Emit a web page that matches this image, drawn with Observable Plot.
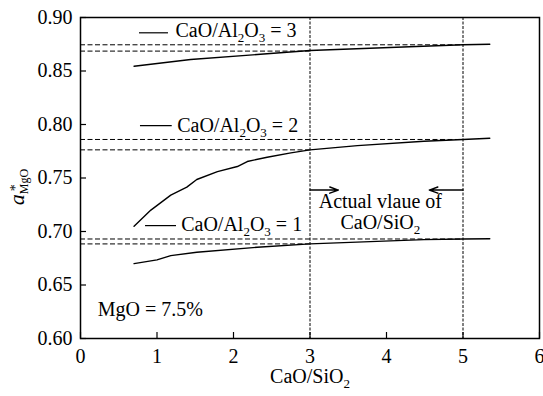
<!DOCTYPE html>
<html><head><meta charset="utf-8">
<script src="https://cdn.jsdelivr.net/npm/d3@7"></script>
<script src="https://cdn.jsdelivr.net/npm/@observablehq/plot@0.6"></script>
<style>
html,body{margin:0;padding:0;background:#fff}
#chart svg{display:block}
</style>
</head><body><div id="chart"></div>
<script>
// ---- data ----
const xTicks = [0, 1, 2, 3, 4, 5, 6];
const yTicks = [0.60, 0.65, 0.70, 0.75, 0.80, 0.85, 0.90];
const seriesNames = ["CaO/Al_{2}O_{3} = 1", "CaO/Al_{2}O_{3} = 2", "CaO/Al_{2}O_{3} = 3"];

const c1x = [0.70, 1.00, 1.18, 1.52, 2.31, 3.00, 4.49, 5.00, 5.35];
const c1y = [0.670, 0.6735, 0.6775, 0.6806, 0.6853, 0.6884, 0.6924, 0.6930, 0.6932];
const c2x = [0.70, 0.92, 1.18, 1.39, 1.52, 1.79, 2.05, 2.18, 2.44, 2.75, 3.00, 3.62, 4.49, 5.00, 5.35];
const c2y = [0.705, 0.720, 0.734, 0.7415, 0.7486, 0.756, 0.7607, 0.7654, 0.7694, 0.7735, 0.7763, 0.7803, 0.7843, 0.786, 0.7872];
const c3x = [0.70, 1.44, 2.31, 3.00, 5.00, 5.35];
const c3y = [0.8545, 0.8607, 0.8654, 0.8691, 0.8745, 0.8750];

const actualRange = [3, 5];            // actual CaO/SiO2 range
const valueAtLow  = [0.6884, 0.7763, 0.8686];  // a* at CaO/SiO2 = 3
const valueAtHigh = [0.6930, 0.7860, 0.8745];  // a* at CaO/SiO2 = 5

// legend annotation (data coords)
const legendLineX1 = [0.85, 0.784, 0.771];
const legendLineX2 = [1.255, 1.199, 1.150];
const legendLineY  = [0.7055, 0.799, 0.8857];
const legendTextX  = [1.316, 1.264, 1.242];
const legendTextY  = [0.7067, 0.799, 0.8874];

const noteLines = ["Actual vlaue of", "CaO/SiO_{2}"];
const noteX = 3.92;
const noteY = [0.728, 0.7086];
const arrowY = 0.7387;
const arrowTipX = [3.37, 4.56];

const mgoText = "MgO = 7.5%";
const mgoPos = [0.226, 0.6267];

// ---- build rows ----
const curves = [c1x, c2x, c3x].flatMap((xs, k) =>
  xs.map((x, i) => ({x, y: [c1y, c2y, c3y][k][i], s: seriesNames[k]})));
const legendRows = seriesNames.map((s, k) => ({
  s, x1: legendLineX1[k], x2: legendLineX2[k], y: legendLineY[k], tx: legendTextX[k], ty: legendTextY[k]}));
const refLow = valueAtLow.map(v => ({v}));
const refHigh = valueAtHigh.map(v => ({v}));
const arrows = [
  {x1: actualRange[0], x2: arrowTipX[0]},
  {x1: actualRange[1], x2: arrowTipX[1]}
];

const FS = 20;
const FAMILY = "Liberation Serif";
const plot = Plot.plot({
  width: 543, height: 396,
  marginLeft: 80, marginRight: 4, marginTop: 17, marginBottom: 58,
  style: {fontFamily: FAMILY, fontSize: FS + "px", color: "#000", background: "#fff"},
  x: {domain: [0, 6]},
  y: {domain: [0.6, 0.9]},
  marks: [
    Plot.ruleX(actualRange, {stroke: "#000", strokeWidth: 1, strokeDasharray: "3,1.5"}),
    Plot.ruleY(refLow, {y: "v", x1: actualRange[0] * 0, x2: actualRange[0], stroke: "#000", strokeWidth: 1, strokeDasharray: "5,2.5"}),
    Plot.ruleY(refHigh, {y: "v", x1: actualRange[0] * 0, x2: actualRange[1], stroke: "#000", strokeWidth: 1, strokeDasharray: "5,2.5"}),
    Plot.line(curves, {x: "x", y: "y", z: "s", stroke: "#000", strokeWidth: 1.4}),
    Plot.ruleY(legendRows, {y: "y", x1: "x1", x2: "x2", stroke: "#000", strokeWidth: 1.2}),
    Plot.text(legendRows, {x: "tx", y: "ty", text: "s", textAnchor: "start", lineAnchor: "middle", fill: "#000", fontSize: FS, fontFamily: FAMILY}),
    Plot.text(noteLines, {x: () => noteX, y: (d, i) => noteY[i], text: d => d, textAnchor: "middle", lineAnchor: "middle", fill: "#000", fontSize: FS, fontFamily: FAMILY}),
    Plot.arrow(arrows, {x1: "x1", x2: "x2", y1: () => arrowY, y2: () => arrowY, stroke: "#000", strokeWidth: 1.5, headLength: 9, headAngle: 40}),
    Plot.text([mgoText], {x: () => mgoPos[0], y: () => mgoPos[1], text: d => d, textAnchor: "start", lineAnchor: "middle", fill: "#000", fontSize: FS, fontFamily: FAMILY}),
    Plot.frame({stroke: "#000", strokeWidth: 1.5}),
    Plot.axisX({ticks: xTicks, tickSize: -6, tickPadding: 16, tickFormat: d => String(d), label: null, strokeWidth: 1.2, fontSize: FS, fontFamily: FAMILY}),
    Plot.axisY({ticks: yTicks, tickSize: -6, tickPadding: 14, tickFormat: d3.format(".2f"), label: null, strokeWidth: 1.2, fontSize: FS, fontFamily: FAMILY}),
    Plot.text(["CaO/SiO_{2}"], {frameAnchor: "bottom", dy: 38.5, text: d => d, textAnchor: "middle", lineAnchor: "middle", fill: "#000", fontSize: FS, fontFamily: FAMILY}),
    Plot.text(["YLABEL"], {frameAnchor: "left", dx: -57, dy: 9, rotate: -90, text: d => d, textAnchor: "middle", lineAnchor: "bottom", fill: "#000", fontSize: FS, fontFamily: FAMILY})
  ]
});

const NS = "http://www.w3.org/2000/svg";
function tspan(txt, attrs) {
  const t = document.createElementNS(NS, "tspan");
  t.textContent = txt;
  for (const k in attrs) t.setAttribute(k, attrs[k]);
  return t;
}
function rich(el) {
  const s = el.textContent;
  if (!/_\{/.test(s)) return;
  const parts = s.split(/(_\{[^}]*\})/).filter(p => p);
  while (el.firstChild) el.removeChild(el.firstChild);
  let shifted = false;
  const sh = FS * 0.25;
  for (const p of parts) {
    if (p.startsWith("_{")) {
      el.appendChild(tspan(p.slice(2, -1), {"font-size": FS * 0.65, dy: shifted ? 0 : sh}));
      shifted = true;
    } else {
      const a = {};
      if (shifted) { a.dy = -sh; shifted = false; }
      el.appendChild(tspan(p, a));
    }
  }
}
plot.querySelectorAll("text").forEach(el => {
  el.setAttribute("font-family", FAMILY);
  if (el.textContent === "YLABEL") {
    el.removeAttribute("y"); el.removeAttribute("dy");
    while (el.firstChild) el.removeChild(el.firstChild);
    el.appendChild(tspan("a", {"font-style": "italic", "font-size": 22}));
    el.appendChild(tspan("*", {"font-size": 14, dx: 3, dy: -4}));
    el.appendChild(tspan("MgO", {"font-size": 12, dx: -10, dy: 8}));
  } else rich(el);
});
document.getElementById("chart").appendChild(plot);
</script>
</body></html>
